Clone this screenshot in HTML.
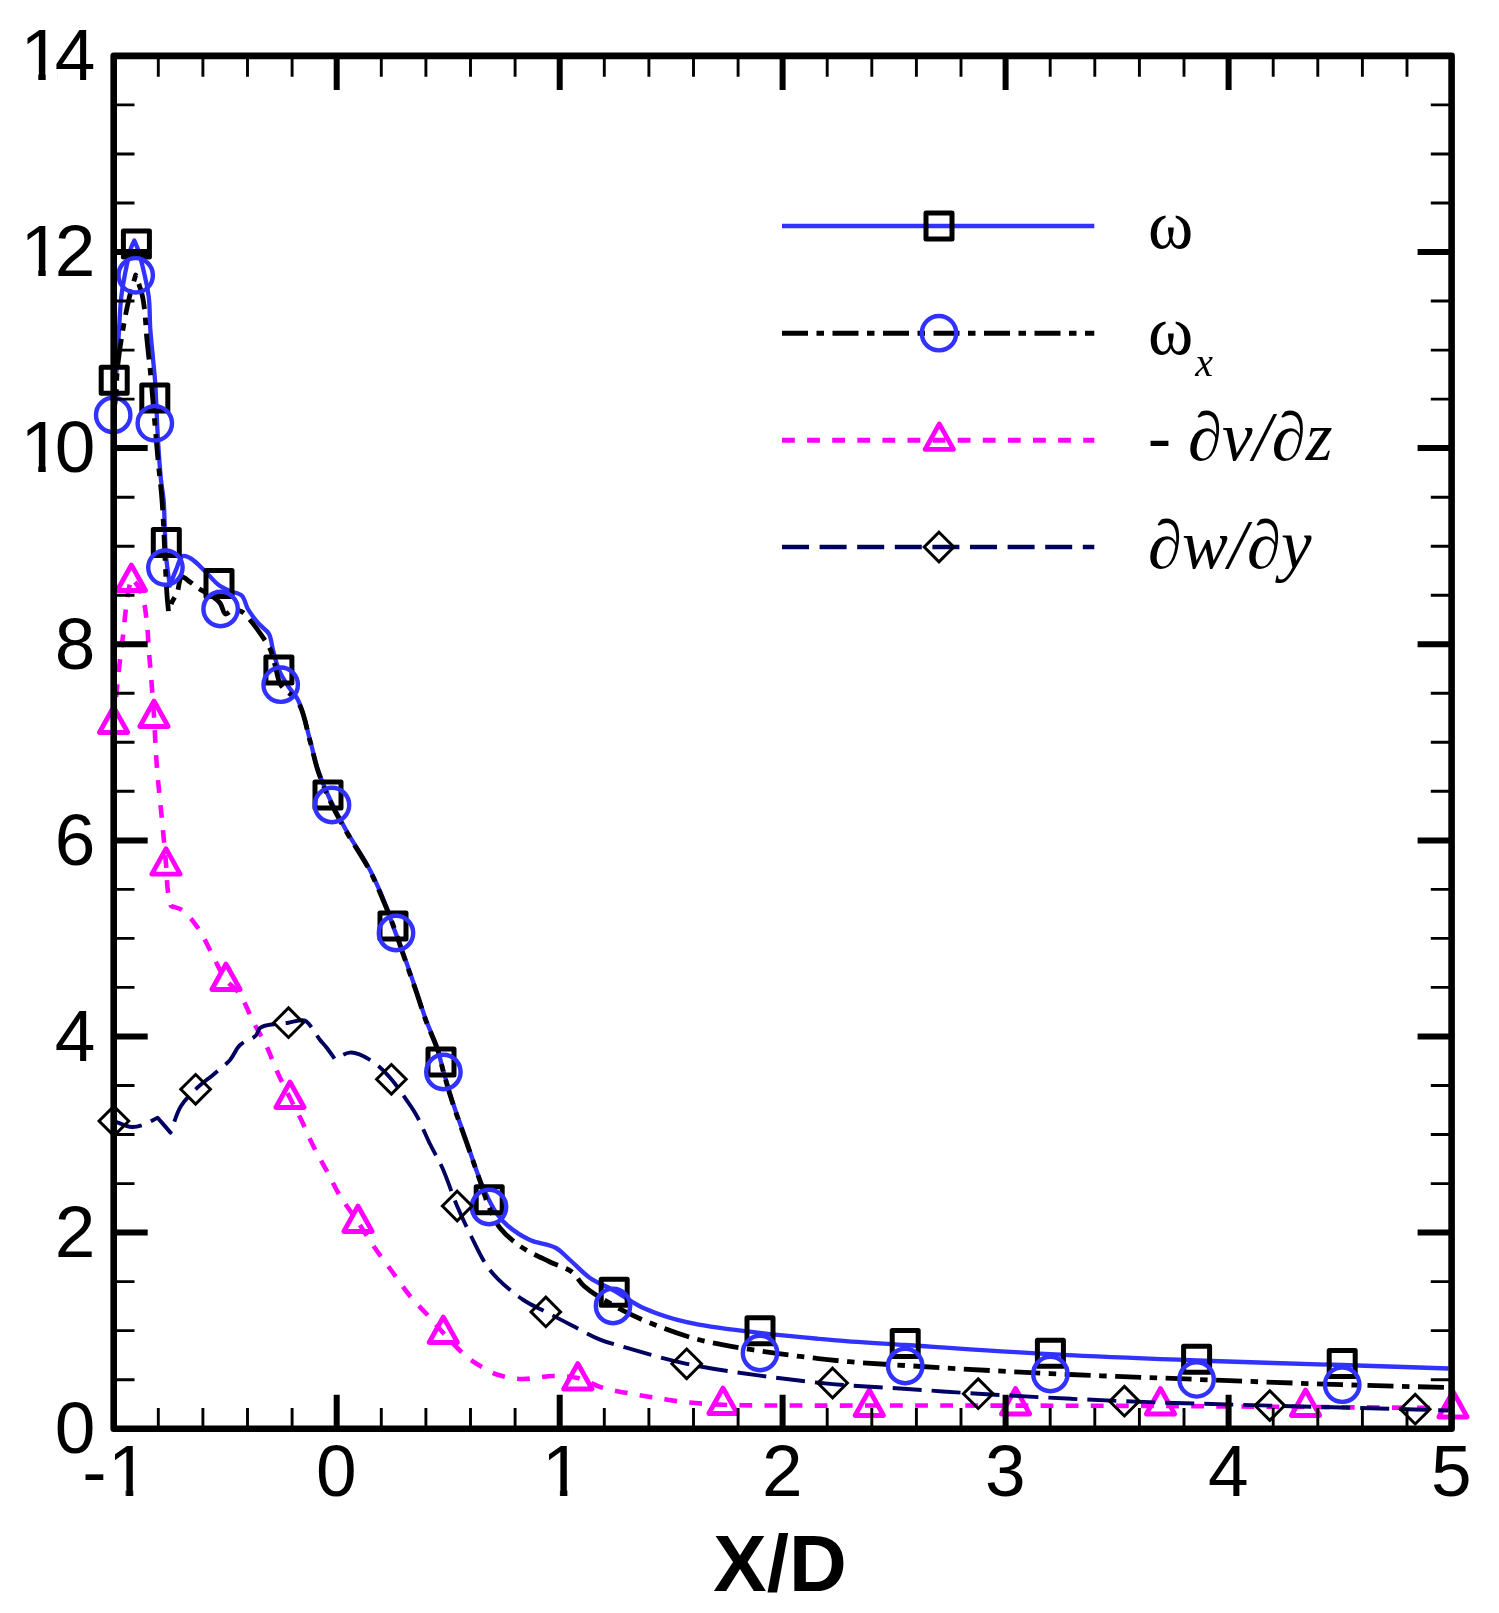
<!DOCTYPE html>
<html lang="en">
<head>
<meta charset="utf-8">
<title>Vorticity components along X/D</title>
<style>
html,body{margin:0;padding:0;background:#fff;}
body{width:1499px;height:1613px;overflow:hidden;}
svg{display:block;}
.tick{font-family:"Liberation Sans",sans-serif;font-size:73px;fill:#000;}
.xlab{font-family:"Liberation Sans",sans-serif;font-size:80px;font-weight:bold;fill:#000;}
.leg{font-family:"Liberation Serif",serif;font-size:68.8px;fill:#000;}
.it{font-style:italic;}
</style>
</head>
<body>
<svg width="1499" height="1613" viewBox="0 0 1499 1613">
<rect x="0" y="0" width="1499" height="1613" fill="#ffffff"/>
<defs><filter id="soft" filterUnits="userSpaceOnUse" x="0" y="0" width="1499" height="1613"><feGaussianBlur stdDeviation="0.65"/></filter></defs>
<g filter="url(#soft)">

<g fill="none" stroke-linejoin="round">
<path d="M114.0,384.0C114.9,379.3 116.0,374.7 116.6,370.0C118.2,356.8 118.1,343.3 119.0,330.0C119.7,318.7 120.0,307.3 121.4,296.0C122.7,285.3 124.8,274.6 127.0,264.0C128.1,258.6 129.2,253.2 131.0,248.0C131.9,245.4 133.2,243.0 134.3,240.5C135.4,243.0 136.6,245.4 137.5,248.0C139.3,253.2 140.7,258.6 142.0,264.0C144.6,274.7 147.3,285.5 148.7,296.4C150.1,307.2 149.5,318.1 150.3,329.0C150.9,338.1 152.0,347.3 152.8,356.4C153.6,365.6 154.7,374.8 155.3,384.0C155.6,388.7 155.8,393.3 156.0,398.0C156.7,412.0 157.1,426.0 158.0,440.0C158.8,453.3 159.6,466.7 161.0,480.0C161.7,486.7 163.0,493.3 163.6,500.0C164.4,509.5 164.4,519.0 164.8,528.5C165.2,537.6 165.2,546.7 166.0,555.8C166.9,565.8 168.5,575.7 169.8,585.6C171.9,580.4 173.7,575.1 176.0,570.0C178.1,565.2 179.3,557.6 183.0,556.0C184.7,555.2 187.9,556.9 190.0,558.0C195.5,561.0 199.8,566.3 204.5,570.7C209.6,575.5 213.8,581.5 219.4,585.6C222.6,587.9 226.4,589.4 230.0,591.0C233.8,592.7 238.9,592.9 241.7,595.5C245.0,598.6 245.4,604.8 247.9,609.0C251.0,614.3 255.0,619.3 259.0,624.0C262.1,627.6 266.8,630.0 269.0,634.0C271.4,638.3 271.4,643.9 272.7,648.8C274.6,655.9 276.1,663.3 279.0,670.0C281.4,675.6 284.7,680.8 288.0,686.0C291.1,690.8 295.5,694.9 298.0,700.0C304.0,712.3 306.2,726.6 310.0,740.0C312.8,750.0 314.7,760.2 318.0,770.0C320.8,778.5 324.3,786.8 328.0,795.0C333.4,806.9 339.6,818.5 346.0,830.0C353.6,843.6 362.8,856.2 370.0,870.0C376.0,881.6 381.2,893.8 386.0,906.0C388.6,912.6 390.6,919.4 393.0,926.0C395.9,934.0 399.1,942.0 402.0,950.0C406.8,963.3 411.4,976.6 416.0,990.0C419.4,1000.0 422.4,1010.1 426.0,1020.0C429.7,1030.1 434.7,1039.8 438.0,1050.0C439.3,1053.9 439.9,1058.0 441.0,1062.0C444.4,1074.7 448.0,1087.4 452.0,1100.0C456.3,1113.5 461.3,1126.7 466.0,1140.0C470.7,1153.3 474.8,1166.9 480.0,1180.0C482.7,1186.8 485.7,1193.5 489.0,1200.0C491.4,1204.8 493.9,1209.7 497.0,1214.0C500.2,1218.4 503.9,1222.5 508.0,1226.0C514.6,1231.5 522.2,1236.4 530.0,1240.0C538.2,1243.8 548.2,1243.7 556.0,1248.0C561.3,1250.9 565.4,1255.9 570.0,1260.0C576.7,1265.9 582.7,1272.9 590.0,1278.0C597.0,1282.9 605.4,1285.8 613.0,1290.0C623.5,1295.8 633.1,1303.4 644.0,1308.3C657.6,1314.4 672.2,1318.8 686.7,1322.2C710.7,1327.8 735.5,1329.9 760.0,1332.9C785.3,1336.0 810.6,1338.2 836.0,1340.3C859.0,1342.2 882.0,1343.5 905.0,1345.0C953.3,1348.2 1001.6,1351.6 1050.0,1354.2C1099.0,1356.8 1148.0,1358.7 1197.0,1360.5C1245.3,1362.3 1293.7,1363.5 1342.0,1365.0C1377.5,1366.1 1413.1,1367.3 1448.6,1368.5" stroke="#3030ff" stroke-width="4.3"/>
<g stroke="#000" stroke-width="5.0" stroke-linejoin="round"><rect x="101.2" y="367.3" width="26.0" height="26.0"/><rect x="123.4" y="230.9" width="26.0" height="26.0"/><rect x="141.8" y="385.0" width="26.0" height="26.0"/><rect x="153.3" y="529.4" width="26.0" height="26.0"/><rect x="206.0" y="570.4" width="26.0" height="26.0"/><rect x="265.9" y="656.9" width="26.0" height="26.0"/><rect x="315.0" y="782.0" width="26.0" height="26.0"/><rect x="380.0" y="913.0" width="26.0" height="26.0"/><rect x="428.0" y="1049.0" width="26.0" height="26.0"/><rect x="476.2" y="1186.8" width="26.0" height="26.0"/><rect x="601.2" y="1279.3" width="26.0" height="26.0"/><rect x="747.0" y="1317.7" width="26.0" height="26.0"/><rect x="892.2" y="1330.5" width="26.0" height="26.0"/><rect x="1037.4" y="1340.2" width="26.0" height="26.0"/><rect x="1183.6" y="1346.2" width="26.0" height="26.0"/><rect x="1329.2" y="1350.4" width="26.0" height="26.0"/></g>
<path d="M113.2,415.0C114.1,408.3 115.4,401.7 116.0,395.0C116.8,386.7 116.5,378.3 117.3,370.0C118.4,358.3 120.1,346.6 122.0,335.0C124.1,322.1 126.5,309.1 129.6,296.4C131.3,289.2 133.7,282.1 135.7,275.0C138.0,282.1 141.0,289.1 142.5,296.4C145.5,310.6 145.5,325.5 147.0,340.0C148.2,351.8 149.6,363.7 150.7,375.5C152.2,391.3 153.4,407.2 154.8,423.0C155.9,435.3 156.9,447.7 158.0,460.0C159.2,473.3 161.0,486.6 162.0,500.0C162.9,511.6 163.4,523.3 164.0,535.0C164.5,545.7 164.9,556.3 165.4,567.0C165.9,576.3 166.3,585.7 167.0,595.0C167.4,600.5 168.0,606.1 168.5,611.6C169.7,608.4 170.6,605.1 172.0,602.0C173.4,598.9 175.7,596.1 177.0,593.0C179.2,587.9 178.8,578.2 182.0,577.0C183.8,576.3 187.4,580.2 190.0,582.0C193.3,584.2 196.2,586.9 199.5,589.0C203.5,591.6 208.1,593.3 212.0,596.0C214.9,598.0 217.9,600.3 220.0,603.0C222.5,606.2 222.9,613.1 225.6,614.0C227.5,614.6 230.4,610.4 233.0,610.0C235.7,609.6 239.2,610.3 241.7,611.6C245.0,613.4 247.4,617.0 250.0,620.0C255.1,625.9 259.6,632.4 264.0,638.9C266.1,642.1 268.4,645.3 270.0,648.8C272.3,653.9 273.4,659.6 275.0,665.0C277.0,671.5 277.3,679.0 280.7,684.7C284.7,691.5 293.9,695.2 298.0,702.0C304.8,713.3 306.2,727.9 310.0,741.0C312.9,750.9 314.7,761.2 318.0,771.0C321.9,782.6 326.8,793.9 332.0,805.0C336.2,813.9 341.1,822.4 346.0,831.0C353.7,844.5 362.8,857.2 370.0,871.0C376.0,882.6 381.0,894.9 386.0,907.0C389.6,915.6 392.9,924.3 396.0,933.0C398.1,939.0 400.0,945.0 402.0,951.0C406.6,964.4 411.4,977.6 416.0,991.0C419.4,1001.0 422.4,1011.1 426.0,1021.0C429.7,1031.1 434.7,1040.8 438.0,1051.0C440.2,1057.9 441.5,1065.0 443.4,1072.0C446.1,1081.7 448.9,1091.4 452.0,1101.0C456.3,1114.4 461.3,1127.7 466.0,1141.0C470.7,1154.3 475.4,1167.7 480.0,1181.0C483.0,1189.7 485.4,1198.6 489.0,1207.0C492.1,1214.2 495.2,1221.9 500.0,1228.0C505.4,1235.0 512.7,1240.9 520.0,1246.0C529.2,1252.5 539.8,1257.0 550.0,1262.0C557.2,1265.6 565.7,1267.3 572.0,1272.0C576.8,1275.6 579.4,1282.0 584.0,1286.0C592.6,1293.6 603.0,1299.3 613.0,1305.0C624.4,1311.5 636.2,1317.2 648.3,1322.2C664.3,1328.8 680.7,1334.9 697.4,1339.3C717.9,1344.7 739.0,1347.6 760.0,1351.0C773.3,1353.1 786.6,1354.8 800.0,1356.4C816.3,1358.4 832.6,1360.3 849.0,1361.7C867.6,1363.3 886.3,1364.3 905.0,1365.5C953.4,1368.5 1001.9,1371.3 1050.4,1373.6C1099.1,1375.9 1147.9,1377.5 1196.6,1379.4C1245.1,1381.2 1293.5,1383.2 1342.0,1384.7C1377.5,1385.8 1413.1,1386.6 1448.6,1387.5" stroke="#000" stroke-width="4.8" stroke-dasharray="26 8.5 7.5 8.5"/>
<g stroke="#3030ff" stroke-width="4.4"><circle cx="113.2" cy="415.0" r="17.2"/><circle cx="135.7" cy="275.3" r="17.2"/><circle cx="154.8" cy="423.3" r="17.2"/><circle cx="165.4" cy="567.6" r="17.2"/><circle cx="220.6" cy="609.0" r="17.2"/><circle cx="280.7" cy="684.7" r="17.2"/><circle cx="332.0" cy="805.0" r="17.2"/><circle cx="396.0" cy="933.0" r="17.2"/><circle cx="443.4" cy="1072.0" r="17.2"/><circle cx="489.0" cy="1207.0" r="17.2"/><circle cx="613.0" cy="1306.0" r="17.2"/><circle cx="760.0" cy="1353.0" r="17.2"/><circle cx="905.2" cy="1366.0" r="17.2"/><circle cx="1050.4" cy="1374.0" r="17.2"/><circle cx="1196.6" cy="1379.4" r="17.2"/><circle cx="1342.2" cy="1384.7" r="17.2"/></g>
<path d="M113.6,722.0C114.7,710.7 115.8,699.3 117.0,688.0C118.0,678.7 118.9,669.3 120.0,660.0C120.9,652.0 122.1,644.0 123.0,636.0C124.1,626.7 124.8,617.3 126.0,608.0C126.9,601.3 127.7,594.6 129.0,588.0C129.7,584.6 130.6,581.3 131.4,578.0C132.6,579.3 133.9,580.6 135.0,582.0C136.5,583.9 137.9,585.9 139.0,588.0C140.7,591.2 142.1,594.6 143.0,598.0C145.3,606.4 146.0,615.3 147.0,624.0C148.0,633.3 148.3,642.7 149.0,652.0C149.6,660.0 150.4,668.0 151.0,676.0C152.1,689.3 153.1,702.7 154.0,716.0C154.8,728.7 155.2,741.3 156.0,754.0C156.6,762.7 157.2,771.3 158.0,780.0C159.2,793.3 160.7,806.7 162.0,820.0C163.4,834.7 164.8,849.3 166.0,864.0C166.8,873.3 166.7,882.8 168.0,892.0C168.7,896.7 170.0,901.3 171.0,906.0C174.7,907.3 178.9,907.9 182.0,910.0C188.4,914.4 193.4,921.5 198.0,928.0C203.6,936.0 207.3,945.3 212.0,954.0C216.7,962.7 220.2,972.2 226.0,980.0C229.6,984.8 235.3,988.0 238.8,992.8C245.2,1001.7 248.6,1012.8 253.7,1022.7C257.8,1030.6 262.6,1038.2 266.5,1046.2C270.5,1054.5 273.4,1063.4 277.2,1071.8C281.2,1080.7 285.6,1089.3 290.0,1098.0C293.5,1105.0 297.3,1111.8 300.7,1118.8C305.2,1127.9 308.9,1137.4 313.5,1146.5C317.5,1154.5 322.1,1162.1 326.3,1170.0C330.9,1178.5 334.8,1187.3 339.8,1195.5C345.3,1204.7 352.1,1213.1 358.0,1222.0C363.4,1230.2 368.4,1238.6 374.0,1246.7C379.4,1254.6 385.3,1262.2 391.0,1270.0C397.3,1278.7 403.2,1287.7 410.0,1296.0C416.0,1303.3 423.0,1309.9 429.4,1317.0C434.1,1322.3 438.5,1327.8 443.3,1333.0C451.2,1341.5 459.0,1350.4 468.0,1357.8C471.9,1361.0 476.3,1363.7 480.7,1366.3C486.2,1369.5 491.8,1372.8 497.8,1374.8C505.2,1377.3 513.4,1378.7 521.2,1379.0C531.8,1379.4 542.6,1376.1 553.3,1376.0C561.5,1376.0 569.9,1376.2 577.8,1378.0C585.9,1379.9 593.3,1384.9 601.3,1387.3C615.2,1391.4 629.7,1393.4 644.0,1395.9C658.2,1398.4 672.4,1400.7 686.7,1402.3C698.7,1403.6 710.9,1404.3 723.0,1404.8C746.5,1405.7 770.0,1405.4 793.5,1405.5C829.0,1405.7 864.5,1405.5 900.0,1405.5C986.7,1405.6 1073.3,1405.6 1160.0,1406.0C1208.3,1406.2 1256.7,1406.7 1305.0,1407.0C1354.3,1407.3 1403.7,1407.7 1453.0,1408.0" stroke="#ff00ff" stroke-width="4.6" stroke-dasharray="12.8 12.3"/>
<g stroke="#ff00ff" stroke-width="4.8" stroke-linejoin="round"><polygon points="113.6,707.0 127.8,732.5 99.4,732.5"/><polygon points="131.4,565.0 145.6,590.5 117.2,590.5"/><polygon points="154.0,701.0 168.2,726.5 139.8,726.5"/><polygon points="166.0,848.7 180.2,874.2 151.8,874.2"/><polygon points="226.0,964.0 240.2,989.5 211.8,989.5"/><polygon points="290.0,1082.0 304.2,1107.5 275.8,1107.5"/><polygon points="358.0,1206.0 372.2,1231.5 343.8,1231.5"/><polygon points="443.3,1317.0 457.5,1342.5 429.1,1342.5"/><polygon points="577.8,1363.5 592.0,1389.0 563.6,1389.0"/><polygon points="723.0,1388.0 737.2,1413.5 708.8,1413.5"/><polygon points="869.3,1390.0 883.5,1415.5 855.1,1415.5"/><polygon points="1015.6,1388.5 1029.8,1414.0 1001.4,1414.0"/><polygon points="1160.5,1388.5 1174.7,1414.0 1146.3,1414.0"/><polygon points="1305.6,1390.0 1319.8,1415.5 1291.4,1415.5"/><polygon points="1453.0,1391.5 1467.2,1417.0 1438.8,1417.0"/></g>
<path d="M113.9,1121.0C119.9,1123.0 125.9,1126.6 132.0,1127.0C135.5,1127.2 139.3,1126.1 142.7,1125.0C147.9,1123.3 152.6,1120.1 157.6,1117.7C161.9,1122.7 166.2,1127.6 170.5,1132.6C174.0,1123.7 176.1,1114.0 181.0,1106.0C184.8,1099.8 190.3,1094.4 195.6,1089.3C201.7,1083.4 208.8,1078.5 215.3,1072.9C220.3,1068.7 225.7,1064.9 230.0,1060.0C233.9,1055.5 235.8,1049.0 240.0,1045.0C244.4,1040.8 251.8,1039.8 255.9,1035.5C257.8,1033.5 257.9,1029.6 260.0,1028.0C263.7,1025.1 269.9,1024.9 275.0,1024.0C279.4,1023.2 284.0,1023.2 288.5,1022.7C294.0,1022.1 300.3,1018.9 305.0,1020.6C307.9,1021.6 309.9,1025.4 312.0,1028.0C314.9,1031.7 317.0,1036.0 319.9,1039.8C321.9,1042.4 324.3,1044.7 326.3,1047.3C329.3,1051.1 332.0,1055.1 334.8,1059.0C339.8,1056.9 344.6,1053.2 349.8,1052.6C352.9,1052.2 356.4,1053.2 359.4,1054.3C365.9,1056.8 372.0,1061.0 377.5,1065.4C382.6,1069.4 387.1,1074.3 391.4,1079.3C395.7,1084.3 399.4,1089.9 403.2,1095.3C407.6,1101.6 412.2,1107.8 416.0,1114.5C421.4,1123.9 425.2,1134.2 430.0,1144.0C434.0,1152.0 438.6,1159.7 442.3,1167.8C447.9,1180.3 451.8,1193.6 457.2,1206.2C461.8,1216.9 466.8,1227.5 472.0,1238.0C476.7,1247.5 481.1,1257.3 487.0,1266.0C490.1,1270.6 493.9,1274.9 497.8,1278.8C505.6,1286.6 514.2,1293.9 523.4,1300.0C530.4,1304.7 538.3,1308.0 545.8,1311.9C554.7,1316.6 563.6,1321.1 572.5,1325.7C581.6,1330.4 590.5,1335.8 600.0,1339.6C607.3,1342.6 615.1,1344.5 622.7,1346.7C643.9,1352.8 665.1,1359.2 686.7,1363.8C710.9,1369.0 735.5,1372.2 760.0,1375.6C784.1,1379.0 808.3,1381.9 832.6,1384.1C855.0,1386.1 877.5,1387.0 900.0,1388.5C926.1,1390.2 952.1,1392.2 978.2,1393.7C1026.9,1396.6 1075.6,1399.2 1124.4,1401.2C1172.8,1403.2 1221.3,1404.2 1269.8,1405.6C1318.3,1407.0 1366.7,1408.1 1415.2,1409.5C1426.3,1409.8 1437.5,1410.2 1448.6,1410.5" stroke="#000060" stroke-width="3.9" stroke-dasharray="29 10"/>
<g stroke="#000" stroke-width="3.0" stroke-linejoin="miter"><polygon points="113.9,1106.2 128.7,1121.0 113.9,1135.8 99.1,1121.0"/><polygon points="195.6,1074.5 210.4,1089.3 195.6,1104.1 180.8,1089.3"/><polygon points="288.5,1007.9 303.3,1022.7 288.5,1037.5 273.7,1022.7"/><polygon points="391.4,1064.5 406.2,1079.3 391.4,1094.1 376.6,1079.3"/><polygon points="457.2,1191.2 472.0,1206.0 457.2,1220.8 442.4,1206.0"/><polygon points="545.8,1297.1 560.6,1311.9 545.8,1326.7 531.0,1311.9"/><polygon points="686.7,1349.0 701.5,1363.8 686.7,1378.6 671.9,1363.8"/><polygon points="832.6,1368.2 847.4,1383.0 832.6,1397.8 817.8,1383.0"/><polygon points="978.2,1378.9 993.0,1393.7 978.2,1408.5 963.4,1393.7"/><polygon points="1124.4,1386.4 1139.2,1401.2 1124.4,1416.0 1109.6,1401.2"/><polygon points="1269.8,1390.8 1284.6,1405.6 1269.8,1420.4 1255.0,1405.6"/><polygon points="1415.2,1394.4 1430.0,1409.2 1415.2,1424.0 1400.4,1409.2"/></g>
</g>

<g stroke="#000" fill="none" stroke-linecap="butt">
<path d="M158.3,1428.7v-20.8M158.3,55.9v20.8M202.9,1428.7v-20.8M202.9,55.9v20.8M247.5,1428.7v-20.8M247.5,55.9v20.8M292.1,1428.7v-20.8M292.1,55.9v20.8M381.3,1428.7v-20.8M381.3,55.9v20.8M425.9,1428.7v-20.8M425.9,55.9v20.8M470.5,1428.7v-20.8M470.5,55.9v20.8M515.1,1428.7v-20.8M515.1,55.9v20.8M604.3,1428.7v-20.8M604.3,55.9v20.8M648.9,1428.7v-20.8M648.9,55.9v20.8M693.5,1428.7v-20.8M693.5,55.9v20.8M738.1,1428.7v-20.8M738.1,55.9v20.8M827.2,1428.7v-20.8M827.2,55.9v20.8M871.8,1428.7v-20.8M871.8,55.9v20.8M916.4,1428.7v-20.8M916.4,55.9v20.8M961.0,1428.7v-20.8M961.0,55.9v20.8M1050.2,1428.7v-20.8M1050.2,55.9v20.8M1094.8,1428.7v-20.8M1094.8,55.9v20.8M1139.4,1428.7v-20.8M1139.4,55.9v20.8M1184.0,1428.7v-20.8M1184.0,55.9v20.8M1273.2,1428.7v-20.8M1273.2,55.9v20.8M1317.8,1428.7v-20.8M1317.8,55.9v20.8M1362.4,1428.7v-20.8M1362.4,55.9v20.8M1407.0,1428.7v-20.8M1407.0,55.9v20.8M113.7,1379.7h20.8M1451.6,1379.7h-20.8M113.7,1330.6h20.8M1451.6,1330.6h-20.8M113.7,1281.6h20.8M1451.6,1281.6h-20.8M113.7,1183.6h20.8M1451.6,1183.6h-20.8M113.7,1134.5h20.8M1451.6,1134.5h-20.8M113.7,1085.5h20.8M1451.6,1085.5h-20.8M113.7,987.4h20.8M1451.6,987.4h-20.8M113.7,938.4h20.8M1451.6,938.4h-20.8M113.7,889.4h20.8M1451.6,889.4h-20.8M113.7,791.3h20.8M1451.6,791.3h-20.8M113.7,742.3h20.8M1451.6,742.3h-20.8M113.7,693.3h20.8M1451.6,693.3h-20.8M113.7,595.2h20.8M1451.6,595.2h-20.8M113.7,546.2h20.8M1451.6,546.2h-20.8M113.7,497.2h20.8M1451.6,497.2h-20.8M113.7,399.1h20.8M1451.6,399.1h-20.8M113.7,350.1h20.8M1451.6,350.1h-20.8M113.7,301.0h20.8M1451.6,301.0h-20.8M113.7,203.0h20.8M1451.6,203.0h-20.8M113.7,154.0h20.8M1451.6,154.0h-20.8M113.7,104.9h20.8M1451.6,104.9h-20.8" stroke-width="2.9"/>
<path d="M336.7,1428.7v-34M336.7,55.9v34M559.7,1428.7v-34M559.7,55.9v34M782.6,1428.7v-34M782.6,55.9v34M1005.6,1428.7v-34M1005.6,55.9v34M1228.6,1428.7v-34M1228.6,55.9v34M113.7,1232.6h34M1451.6,1232.6h-34M113.7,1036.5h34M1451.6,1036.5h-34M113.7,840.4h34M1451.6,840.4h-34M113.7,644.2h34M1451.6,644.2h-34M113.7,448.1h34M1451.6,448.1h-34M113.7,252.0h34M1451.6,252.0h-34" stroke-width="6.0"/>
<rect x="113.7" y="55.9" width="1337.9" height="1372.8" stroke-width="6.6" stroke-linejoin="round"/>
</g>

<clipPath id="nofoot" clipPathUnits="userSpaceOnUse"><path d="M-2,-62H42V-6.9H25.3V3H17.9V-6.9H-2Z"/></clipPath>
<clipPath id="nofooty" clipPathUnits="userSpaceOnUse"><path d="M-2,-62H82V3H37.5V-6.9H25.3V3H17.9V-6.9H-2Z"/></clipPath>
<clipPath id="nofootm" clipPathUnits="userSpaceOnUse"><path d="M-2,-62H72V-6.9H50.9V3H43.5V-6.9H-2Z"/></clipPath>
<g class="tick">
<text x="95.4" y="1453.0" text-anchor="end">0</text>
<text x="95.4" y="1256.9" text-anchor="end">2</text>
<text x="95.4" y="1060.8" text-anchor="end">4</text>
<text x="95.4" y="864.7" text-anchor="end">6</text>
<text x="95.4" y="668.5" text-anchor="end">8</text>
<g transform="translate(20.4,472.4)" clip-path="url(#nofooty)"><text x="0 34.4" y="0">10</text></g>
<g transform="translate(20.4,276.3)" clip-path="url(#nofooty)"><text x="0 34.4" y="0">12</text></g>
<g transform="translate(20.4,80.2)" clip-path="url(#nofooty)"><text x="0 34.4" y="0">14</text></g>
<g transform="translate(82.3,1496.4)" clip-path="url(#nofootm)"><text x="0 25.6" y="0">-1</text></g>
<text x="336.3" y="1496.4" text-anchor="middle">0</text>
<g transform="translate(542.1,1496.4)" clip-path="url(#nofoot)"><text x="0" y="0">1</text></g>
<text x="782.2" y="1496.4" text-anchor="middle">2</text>
<text x="1005.2" y="1496.4" text-anchor="middle">3</text>
<text x="1228.2" y="1496.4" text-anchor="middle">4</text>
<text x="1451.2" y="1496.4" text-anchor="middle">5</text>
</g>

<text class="xlab" x="780" y="1591" text-anchor="middle">X/D</text>

<g fill="none">
<line x1="782" y1="226" x2="1094.3" y2="226" stroke="#3030ff" stroke-width="4.6"/>
<g stroke="#000" stroke-width="5.0" stroke-linejoin="round"><rect x="926.0" y="213.0" width="26.0" height="26.0"/></g>
<line x1="782" y1="333.2" x2="1094.3" y2="333.2" stroke="#000" stroke-width="5" stroke-dasharray="26 8.5 7.5 8.5"/>
<g stroke="#3030ff" stroke-width="4.4"><circle cx="939.0" cy="333.2" r="17.2"/></g>
<line x1="782" y1="440.3" x2="1094.3" y2="440.3" stroke="#ff00ff" stroke-width="5" stroke-dasharray="12.8 12.3"/>
<g stroke="#ff00ff" stroke-width="4.8" stroke-linejoin="round"><polygon points="939.3,423.9 953.5,449.4 925.1,449.4"/></g>
<line x1="782" y1="547.0" x2="1094.3" y2="547.0" stroke="#000060" stroke-width="4.6" stroke-dasharray="27 10.6"/>
<g stroke="#000" stroke-width="3.0"><polygon points="939.0,532.2 953.8,547.0 939.0,561.8 924.2,547.0"/></g>
</g>

<g class="leg">
<text x="1148" y="248">ω</text>
<text x="1148" y="354">ω<tspan class="it" font-size="40" dx="2" dy="22">x</tspan></text>
<text class="it" x="1148" y="460">- ∂v/∂z</text>
<text class="it" x="1148" y="568">∂w/∂y</text>
</g>

</g>
</svg>
</body>
</html>
